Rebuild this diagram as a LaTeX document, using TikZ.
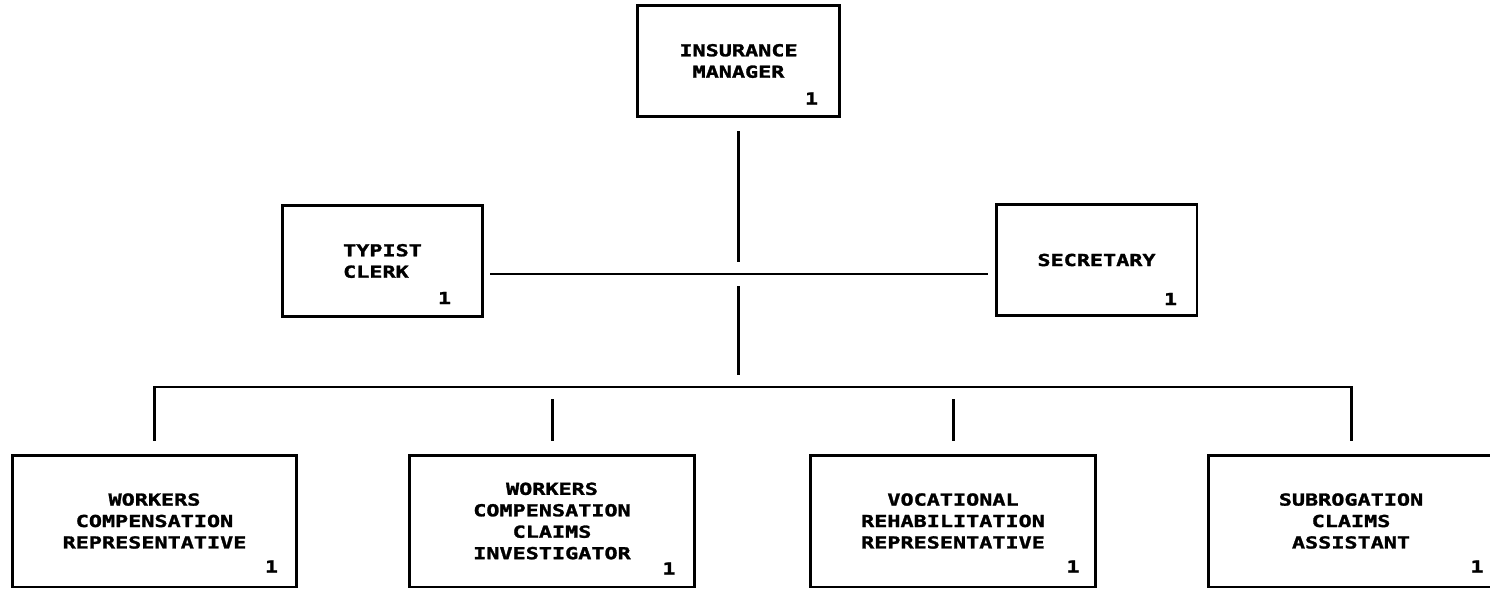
\documentclass[tikz,border=0pt]{standalone}
\usepackage{fontspec}
\newfontfamily\chartfont{DejaVu Sans Mono}[FakeStretch=1.32, FakeBold=1.6]
\usetikzlibrary{positioning}

\begin{document}
\begin{tikzpicture}[
    x=0.02cm, y=-0.02cm,
    font=\chartfont\bfseries\fontsize{9.4}{12.2}\selectfont,
    % Style definitions
    headbox/.style={draw, line width=1.7pt, align=center, minimum width=4.06cm, minimum height=2.24cm},
    sidebox/.style={draw, line width=1.7pt, align=center, minimum width=4.02cm, minimum height=2.22cm},
    postbox/.style={draw, line width=1.7pt, align=center, minimum width=5.7cm, minimum height=2.64cm},
    count/.style={inner sep=0pt},
    link/.style={line width=1.7pt}
]
    \useasboundingbox (0,0) rectangle (1490,588);

    % === TOP: Manager and staff ===
    \node (mgr) [headbox] at (738.5,61) {INSURANCE\\MANAGER};
    \node (typist) [sidebox, align=left] at (382.5,261) {TYPIST\\CLERK};
    \node (sec) [sidebox] at (1096.5,260) {SECRETARY};

    \node (mgr_n) [count] at ([shift={(-30,-20)}]mgr.south east) {1};
    \node (typist_n) [count] at ([shift={(-40,-20)}]typist.south east) {1};
    \node (sec_n) [count] at ([shift={(-28,-18)}]sec.south east) {1};

    % === BOTTOM ROW: Positions ===
    \node (wcrep) [postbox] at (154.5,521) {WORKERS\\COMPENSATION\\REPRESENTATIVE};
    \node (wcinv) [postbox] at (552,521) {WORKERS\\COMPENSATION\\CLAIMS\\INVESTIGATOR};
    \node (vocrep) [postbox] at (953,521) {VOCATIONAL\\REHABILITATION\\REPRESENTATIVE};
    \node (subro) [postbox] at (1351,521) {SUBROGATION\\CLAIMS\\ASSISTANT};

    \node (wcrep_n) [count] at ([shift={(-27,-22)}]wcrep.south east) {1};
    \node (wcinv_n) [count] at ([shift={(-27,-20)}]wcinv.south east) {1};
    \node (vocrep_n) [count] at ([shift={(-24,-22)}]vocrep.south east) {1};
    \node (subro_n) [count] at ([shift={(-18,-22)}]subro.south east) {1};

    % === Connectors ===
    \coordinate (hub) at (738,274);
    \coordinate (bus) at (738,387);

    \draw [link, shorten <=0.26cm, shorten >=0.24cm] (mgr.south) -- (mgr.south |- hub);
    \draw [link, shorten <=0.12cm, shorten >=0.14cm] (typist.east |- hub) -- (sec.west |- hub);
    \draw [link, shorten <=0.24cm, shorten >=0.24cm] (hub) -- (bus);
    \draw [link, shorten <=0.26cm, shorten >=0.26cm] (wcrep.north) |- (bus) -| (subro.north);
    \draw [link, shorten <=0.26cm, shorten >=0.24cm] (wcinv.north) -- (wcinv.north |- bus);
    \draw [link, shorten <=0.26cm, shorten >=0.24cm] (vocrep.north) -- (vocrep.north |- bus);

\end{tikzpicture}
\end{document}
